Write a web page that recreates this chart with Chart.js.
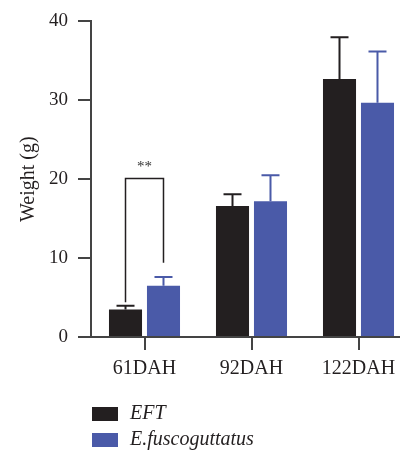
<!DOCTYPE html>
<html>
<head>
<meta charset="utf-8">
<script src="https://cdn.jsdelivr.net/npm/chart.js@4"></script>
<style>
  html, body { margin: 0; padding: 0; background: #fff; overflow: hidden; }
  #wrap { width: 400px; height: 450px; overflow: hidden; }
</style>
</head>
<body>
<div id="wrap"><canvas id="weightChart" width="412" height="450"></canvas></div>
<script>
// data
const categories = ['61DAH', '92DAH', '122DAH'];
const eftWeight = [3.5, 16.6, 32.7];
const eftErr = [0.45, 1.5, 5.3];
const fuscoWeight = [6.5, 17.2, 29.7];
const fuscoErr = [1.1, 3.3, 6.5];
const yTicks = [0, 10, 20, 30, 40];

// significance bracket (group 0): left end, right end, top, label
const sigGroup = 0;
const sigLeftEnd = 4.4;
const sigRightEnd = 9.4;
const sigTop = 20.1;
const sigLabel = '**';

const black = '#231f20';
const blue = '#4a5aa8';
const axisColor = '#444';
const serif = "'Liberation Serif', 'DejaVu Serif', serif";

// error bars, upper side only
const errorBars = {
  id: 'errorBars',
  afterDatasetsDraw(chart) {
    const ctx = chart.ctx;
    const y = chart.scales.y;
    chart.data.datasets.forEach((ds, i) => {
      const meta = chart.getDatasetMeta(i);
      meta.data.forEach((bar, j) => {
        const top = y.getPixelForValue(ds.data[j] + ds.err[j]);
        ctx.save();
        ctx.strokeStyle = ds.backgroundColor;
        ctx.lineWidth = 2;
        ctx.beginPath();
        ctx.moveTo(bar.x, bar.y);
        ctx.lineTo(bar.x, top);
        ctx.moveTo(bar.x - 9, top);
        ctx.lineTo(bar.x + 9, top);
        ctx.stroke();
        ctx.restore();
      });
    });
  }
};

// ** bracket
const sigBracket = {
  id: 'sigBracket',
  afterDatasetsDraw(chart) {
    const ctx = chart.ctx;
    const y = chart.scales.y;
    const xl = chart.getDatasetMeta(0).data[sigGroup].x;
    const xr = chart.getDatasetMeta(1).data[sigGroup].x;
    const yt = y.getPixelForValue(sigTop);
    ctx.save();
    ctx.strokeStyle = black;
    ctx.lineWidth = 1.5;
    ctx.beginPath();
    ctx.moveTo(xl, y.getPixelForValue(sigLeftEnd));
    ctx.lineTo(xl, yt);
    ctx.lineTo(xr, yt);
    ctx.lineTo(xr, y.getPixelForValue(sigRightEnd));
    ctx.stroke();
    ctx.fillStyle = '#333';
    ctx.font = '15px ' + serif;
    ctx.textAlign = 'center';
    ctx.textBaseline = 'middle';
    ctx.fillText(sigLabel, (xl + xr) / 2, yt - 11);
    ctx.restore();
  }
};

// legend stacked under the axis
const stackedLegend = {
  id: 'stackedLegend',
  afterDraw(chart) {
    const ctx = chart.ctx;
    const left = chart.chartArea.left + 1;
    let top = chart.chartArea.bottom + 70;
    ctx.save();
    chart.data.datasets.forEach(ds => {
      ctx.fillStyle = ds.backgroundColor;
      ctx.fillRect(left, top, 26, 14);
      ctx.fillStyle = black;
      ctx.font = 'italic 20px ' + serif;
      ctx.textAlign = 'left';
      ctx.textBaseline = 'middle';
      ctx.fillText(ds.label, left + 38, top + 7);
      top += 26;
    });
    ctx.restore();
  }
};

new Chart(document.getElementById('weightChart'), {
  type: 'bar',
  data: {
    labels: categories,
    datasets: [
      { label: 'EFT', data: eftWeight, err: eftErr, backgroundColor: black },
      { label: 'E.fuscoguttatus', data: fuscoWeight, err: fuscoErr, backgroundColor: blue }
    ]
  },
  options: {
    responsive: false,
    animation: false,
    categoryPercentage: 0.71,
    barPercentage: 0.87,
    layout: { padding: { top: 20, right: 0, left: 0, bottom: 0 } },
    plugins: {
      legend: { display: false },
      tooltip: { enabled: false }
    },
    scales: {
      x: {
        grid: { offset: false, drawOnChartArea: false, drawTicks: true, tickLength: 13, color: axisColor, lineWidth: 2 },
        border: { color: axisColor, width: 2 },
        ticks: { color: black, font: { family: serif, size: 20 }, padding: 7 },
        afterFit(scale) { scale.height = 113; }
      },
      y: {
        min: 0,
        max: 40,
        afterBuildTicks(scale) { scale.ticks = yTicks.map(v => ({ value: v })); },
        grid: { drawOnChartArea: false, drawTicks: true, tickLength: 13, color: axisColor, lineWidth: 2 },
        border: { color: axisColor, width: 2 },
        ticks: { color: black, font: { family: serif, size: 19 }, padding: 10 },
        title: { display: true, text: 'Weight (g)', color: black, font: { family: serif, size: 20 }, padding: { top: 17, bottom: 0 } },
        afterFit(scale) { scale.width = 91; }
      }
    }
  },
  plugins: [errorBars, sigBracket, stackedLegend]
});
</script>
</body>
</html>
